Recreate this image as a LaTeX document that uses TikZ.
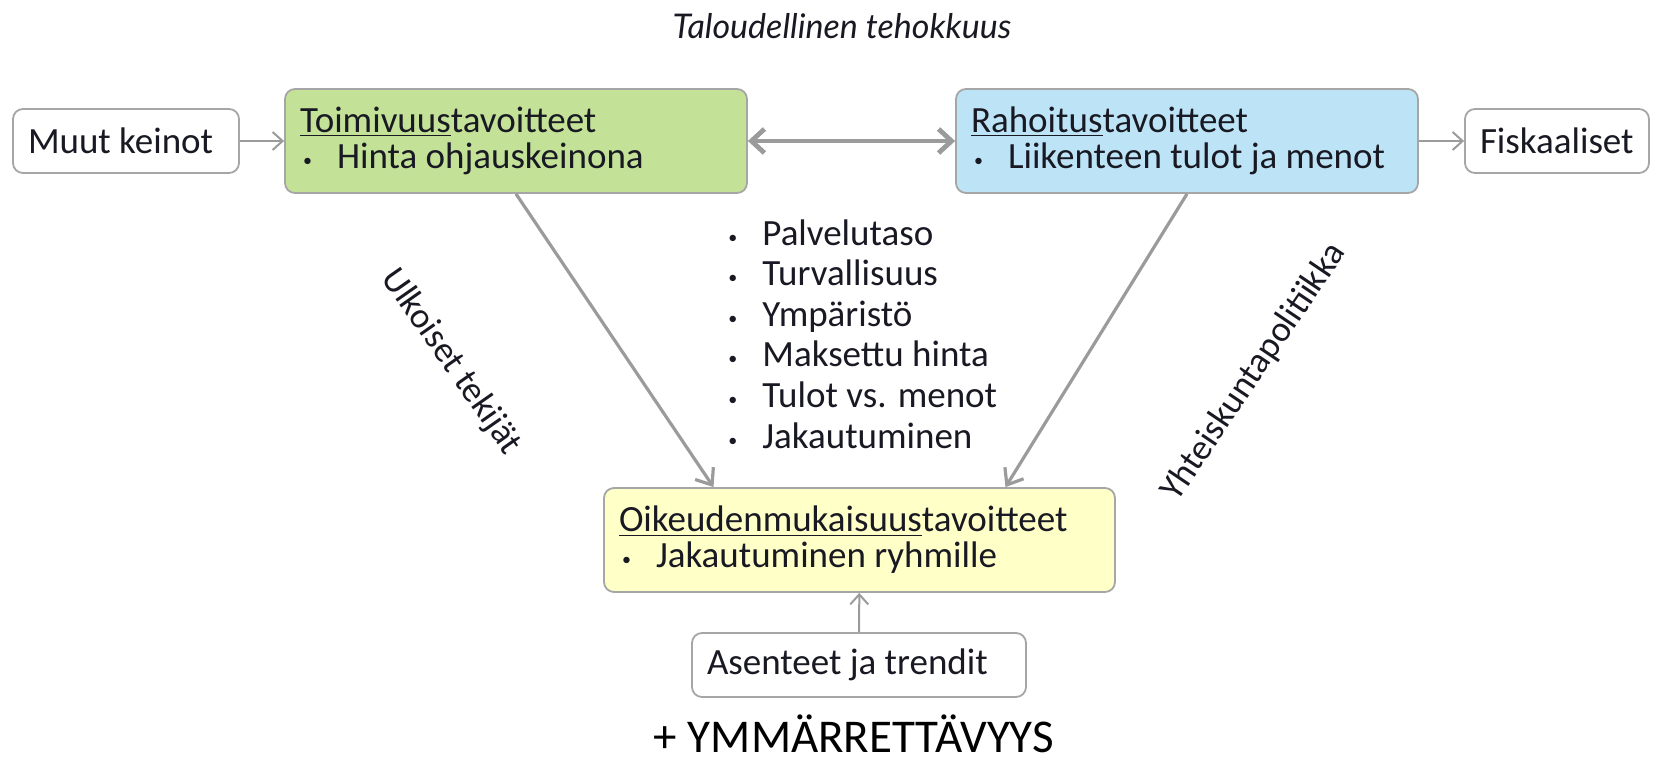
\documentclass[tikz,border=0pt]{standalone}
\usepackage{fontspec}
\setmainfont{Carlito}
\newfontfamily\latofont{Lato}
\usetikzlibrary{arrows.meta,calc}

\definecolor{reuna}{RGB}{166,166,166}
\definecolor{nuoli}{RGB}{155,155,155}
\definecolor{vihrea}{RGB}{195,226,152}
\definecolor{sininen}{RGB}{189,228,246}
\definecolor{keltainen}{RGB}{255,255,200}
\definecolor{teksti}{RGB}{25,25,35}

\newcommand{\luettelo}{\makebox[18.5pt][l]{\hspace{1.5pt}\raisebox{1pt}{\fontsize{9}{9}\selectfont\textbullet}}}

\tikzset{
  laatikko/.style={draw=reuna, line width=0.9pt, rounded corners=5pt,
    inner xsep=7.5pt, inner ysep=0pt, align=flush left, text=teksti,
    font=\fontsize{18.5}{18}\selectfont},
  tavoite/.style={laatikko, minimum height=52pt},
  keino/.style={laatikko, fill=white, minimum height=32pt},
  ohut/.style={draw=nuoli, line width=1pt, -{Straight Barb[length=5pt,width=9pt]}},
  keski/.style={draw=nuoli, line width=1.6pt, -{Straight Barb[length=7pt,width=11pt]}},
  paksu/.style={draw=nuoli, line width=2.4pt,
    {Straight Barb[length=6.5pt,width=12pt]}-{Straight Barb[length=6.5pt,width=12pt]}},
  vino/.style={text=teksti, font=\fontsize{18}{20}\selectfont, inner sep=0pt}
}

\begin{document}
\begin{tikzpicture}[x=0.5pt,y=-0.5pt]
  \useasboundingbox (0,0) rectangle (1667,761);

  \node[anchor=base, text=teksti, font=\latofont\itshape\fontsize{17}{20}\selectfont]
    (talous) at (842,38) {Taloudellinen tehokkuus};

  % tavoitteet
  \node[tavoite, fill=vihrea, text width=216pt] (toimivuus) at (516,141)
    {\underline{Toimivuus}tavoitteet\\\luettelo Hinta ohjauskeinona};
  \node[tavoite, fill=sininen, text width=216pt] (rahoitus) at (1187,141)
    {\underline{Rahoitus}tavoitteet\\\luettelo Liikenteen tulot ja menot};
  \node[tavoite, fill=keltainen, text width=240.5pt] (oikeus) at (859.5,540)
    {\underline{Oikeudenmukaisuus}tavoitteet\\\luettelo Jakautuminen ryhmille};

  % muut laatikot
  \node[keino, text width=98pt] (muut) at (126,141) {Muut keinot};
  \node[keino, text width=77pt] (fiskaaliset) at (1557,141) {Fiskaaliset};
  \node[keino, text width=152pt] (asenteet) at (859,665) {Asenteet ja trendit};

  \node[anchor=base west, align=flush left, inner sep=0pt, text=teksti,
    font=\fontsize{18.5}{20.3}\selectfont] (mittarit) at (725,448)
    {\luettelo Palvelutaso\\\luettelo Turvallisuus\\\luettelo Ympäristö\\
     \luettelo Maksettu hinta\\\luettelo Tulot vs. menot\\\luettelo Jakautuminen};

  \node[vino, rotate=-55] (ulkoiset) at (451,362) {Ulkoiset tekijät};
  \node[vino, rotate=56] (yhteiskunta) at (1254,372) {Yhteiskuntapolitiikka};

  \node[anchor=base, text=black, font=\fontsize{23.5}{28}\selectfont]
    (ymmarrettavyys) at (854,752) {+ YMMÄRRETTÄVYYS};

  % nuolet
  \draw[ohut] (muut) -- (toimivuus);
  \draw[ohut] (rahoitus) -- (fiskaaliset);
  \draw[paksu] (toimivuus) -- (rahoitus);
  \draw[keski] (toimivuus.south) -- ([xshift=-73pt]oikeus.north);
  \draw[keski] (rahoitus.south) -- ([xshift=73pt]oikeus.north);
  \draw[ohut] (asenteet) -- (oikeus);
\end{tikzpicture}
\end{document}
